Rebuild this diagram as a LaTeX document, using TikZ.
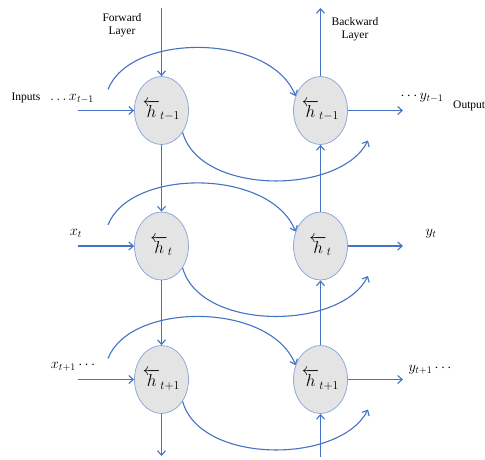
\documentclass[tikz,border=0pt]{standalone}
\usepackage{fontspec}
\setmainfont{Liberation Serif}
\usetikzlibrary{arrows.meta,shapes.geometric}
\definecolor{lineblue}{HTML}{4472C4}
\definecolor{cellfill}{HTML}{E4E4E4}
\definecolor{cellborder}{HTML}{8EAADB}
\begin{document}
\begin{tikzpicture}[x=1pt,y=-1pt,
  conn/.style={draw=lineblue,line width=1.1pt,-{Straight Barb[length=4.5pt,width=8pt]}},
  cell/.style={ellipse,draw=cellborder,line width=0.8pt,fill=cellfill,minimum width=54pt,minimum height=68pt,inner sep=0pt,font=\fontsize{18}{20}\selectfont},
  lbl/.style={font=\fontsize{11.5}{13.5}\selectfont,align=center,inner sep=0pt},
  mlbl/.style={font=\fontsize{14}{16}\selectfont,inner sep=0pt}]
\useasboundingbox (0,0) rectangle (485,459);
% cells
\node[cell] (L1) at (161.5,110.5) {$\overleftarrow{h}_{t-1}$};
\node[cell] (L2) at (161.5,246) {$\overleftarrow{h}_{t}$};
\node[cell] (L3) at (161.5,379.5) {$\overleftarrow{h}_{t+1}$};
\node[cell] (R1) at (320.5,110.5) {$\overleftarrow{h}_{t-1}$};
\node[cell] (R2) at (320.5,246) {$\overleftarrow{h}_{t}$};
\node[cell] (R3) at (320.5,379.5) {$\overleftarrow{h}_{t+1}$};
% texts
\node[lbl] (fw) at (122,25) {Forward\\Layer};
\node[lbl] (bw) at (355,29) {Backward\\Layer};
\node[lbl] (inp) at (26,98) {Inputs};
\node[lbl,anchor=west] (outp) at (453,106) {Outputs};
\node[mlbl] (x1) at (72,99) {$\ldots x_{t-1}$};
\node[mlbl] (x2) at (76,233) {$x_t$};
\node[mlbl] (x3) at (73,367) {$x_{t+1}\cdots$};
\node[mlbl] (y1) at (422,98) {$\cdots y_{t-1}$};
\node[mlbl] (y2) at (431,234) {$y_t$};
\node[mlbl] (y3) at (430,370) {$y_{t+1}\cdots$};
% free ends
\coordinate (ftop) at (161.5,8);
\coordinate (fbot) at (161.5,456);
\coordinate (btop) at (320.5,8);
\coordinate (bbot) at (320.5,457);
\foreach \r/\y in {1/110.5,2/246,3/379.5}{
  \coordinate (in\r) at (78,\y);
  \coordinate (out\r) at (403,\y);
  \coordinate (us\r) at (108,{\y-21});
  \coordinate (le\r) at (368,{\y+30});
  \draw[conn] (in\r) -- (L\r);
  \draw[conn] (R\r) -- (out\r);
  \draw[conn] (us\r) .. controls (130,{\y-78}) and (270,{\y-78}) .. (R\r.150);
  \draw[conn] (L\r.-46) .. controls (200,{\y+85}) and (340,{\y+85}) .. (le\r);
}
% vertical chains
\draw[conn] (ftop) -- (L1);
\draw[conn] (L1) -- (L2);
\draw[conn] (L2) -- (L3);
\draw[conn] (L3) -- (fbot);
\draw[conn] (bbot) -- (R3);
\draw[conn] (R3) -- (R2);
\draw[conn] (R2) -- (R1);
\draw[conn] (R1) -- (btop);
\end{tikzpicture}
\end{document}
